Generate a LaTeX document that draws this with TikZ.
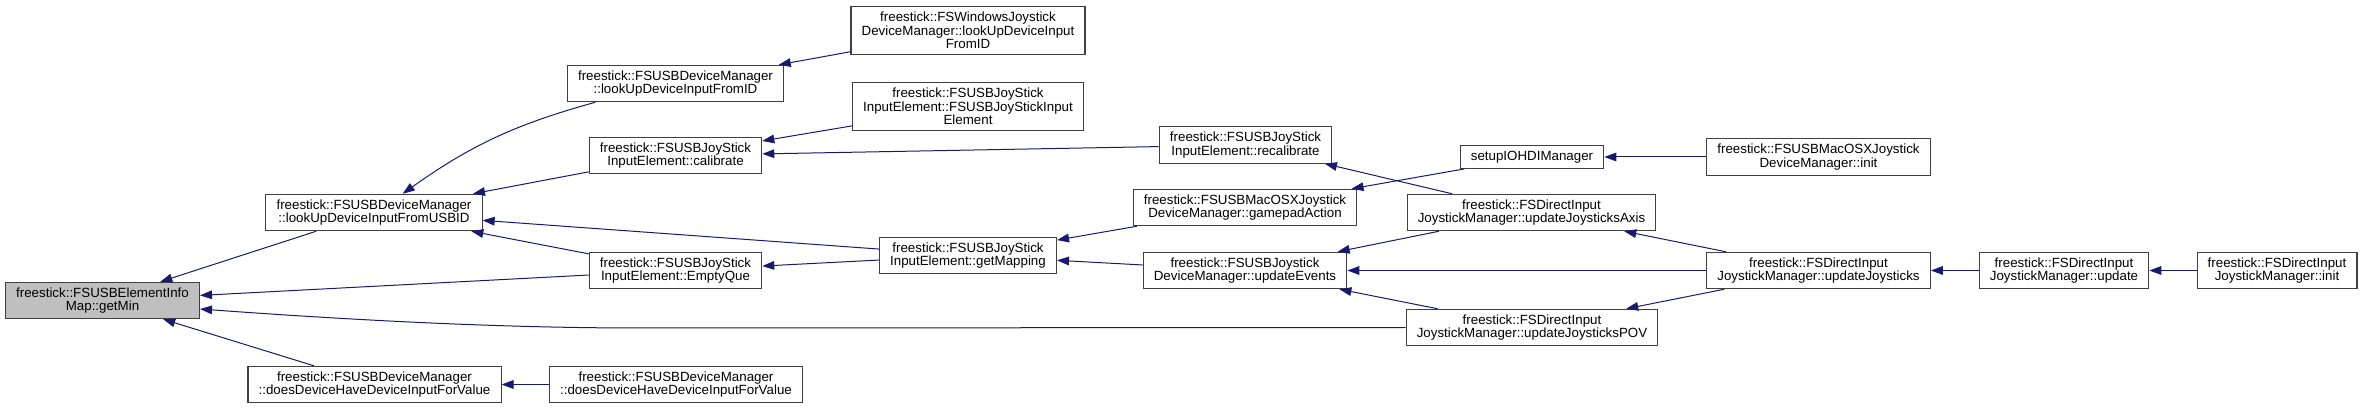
\documentclass[tikz,border=0pt]{standalone}
\usepackage{fontspec}
\setmainfont{Liberation Sans}
\usetikzlibrary{arrows.meta,calc}
\definecolor{CallNavy}{HTML}{191970}
\definecolor{CallGray}{HTML}{BFBFBF}
\definecolor{CallFrame}{HTML}{404040}

\begin{document}
\begin{tikzpicture}[x=0.75pt,y=-0.75pt,every node/.style={font=\fontsize{10}{10}\selectfont}]
    \tikzset{fn/.style={draw=CallFrame,line width=0.8pt,fill=white,align=center,
      inner xsep=8pt,inner ysep=4pt},
      hit/.style={fn,fill=CallGray},
      call/.style={{Triangle[length=9pt,width=6.5pt]}-,line width=0.75pt,CallNavy}}
    \useasboundingbox (0,0) rectangle (2363,409);
    % column 1 and 2
    \node[hit] (getmin) at (102.5,300.5) {freestick::FSUSBElementInfo\hfill\\Map::getMin};
    \node[fn] (usbid) at (374,212.5) {freestick::FSUSBDeviceManager\hfill\\::lookUpDeviceInputFromUSBID};
    \node[fn] (dd1) at (374.5,384.5) {freestick::FSUSBDeviceManager\hfill\\::doesDeviceHaveDeviceInputForValue};
    % column 3
    \node[fn] (fromid) at (675.5,83.5) {freestick::FSUSBDeviceManager\hfill\\::lookUpDeviceInputFromID};
    \node[fn] (calib) at (675.5,155.5) {freestick::FSUSBJoyStick\hfill\\InputElement::calibrate};
    \node[fn] (emptyque) at (675.5,270.5) {freestick::FSUSBJoyStick\hfill\\InputElement::EmptyQue};
    \node[fn] (dd2) at (676,384.5) {freestick::FSUSBDeviceManager\hfill\\::doesDeviceHaveDeviceInputForValue};
    % column 4
    \node[fn] (fswin) at (968,30.5) {freestick::FSWindowsJoystick\hfill\\DeviceManager::lookUpDeviceInput\hfill\\FromID};
    \node[fn] (ctor) at (968,106.5) {freestick::FSUSBJoyStick\hfill\\InputElement::FSUSBJoyStickInput\hfill\\Element};
    \node[fn] (getmap) at (968,255.5) {freestick::FSUSBJoyStick\hfill\\InputElement::getMapping};
    % column 5
    \node[fn] (recal) at (1245.5,145) {freestick::FSUSBJoyStick\hfill\\InputElement::recalibrate};
    \node[fn] (gamepad) at (1245,207.5) {freestick::FSUSBMacOSXJoystick\hfill\\DeviceManager::gamepadAction};
    \node[fn] (updev) at (1245,270.5) {freestick::FSUSBJoystick\hfill\\DeviceManager::updateEvents};
    % column 6
    \node[fn] (setup) at (1532,157) {setupIOHDIManager};
    \node[fn] (axis) at (1531.5,212.5) {freestick::FSDirectInput\hfill\\JoystickManager::updateJoysticksAxis};
    \node[fn] (pov) at (1532,327.5) {freestick::FSDirectInput\hfill\\JoystickManager::updateJoysticksPOV};
    % columns 7 to 9
    \node[fn] (macinit) at (1818.5,157) {freestick::FSUSBMacOSXJoystick\hfill\\DeviceManager::init};
    \node[fn] (upjoy) at (1818.5,270.5) {freestick::FSDirectInput\hfill\\JoystickManager::updateJoysticks};
    \node[fn] (update) at (2064,270.5) {freestick::FSDirectInput\hfill\\JoystickManager::update};
    \node[fn] (init) at (2277,270.5) {freestick::FSDirectInput\hfill\\JoystickManager::init};
    \foreach \x/\y in {getmin/usbid,getmin/emptyque,getmin/dd1,dd1/dd2,usbid/calib,usbid/getmap,
      usbid/emptyque,fromid/fswin,calib/ctor,calib/recal,emptyque/getmap,getmap/gamepad,
      getmap/updev,recal/axis,gamepad/setup,updev/axis,updev/upjoy,updev/pov,axis/upjoy,
      pov/upjoy,setup/macinit,upjoy/update,update/init}{\draw[call] (\x) -- (\y);}
    \draw[call] (usbid) to[bend left=10] (fromid);
    \draw[call] ($(getmin.east)+(0,8.5)$) .. controls (350,320) and (500,328) .. (640,328) -- (pov.west);
  \end{tikzpicture}
\end{document}
